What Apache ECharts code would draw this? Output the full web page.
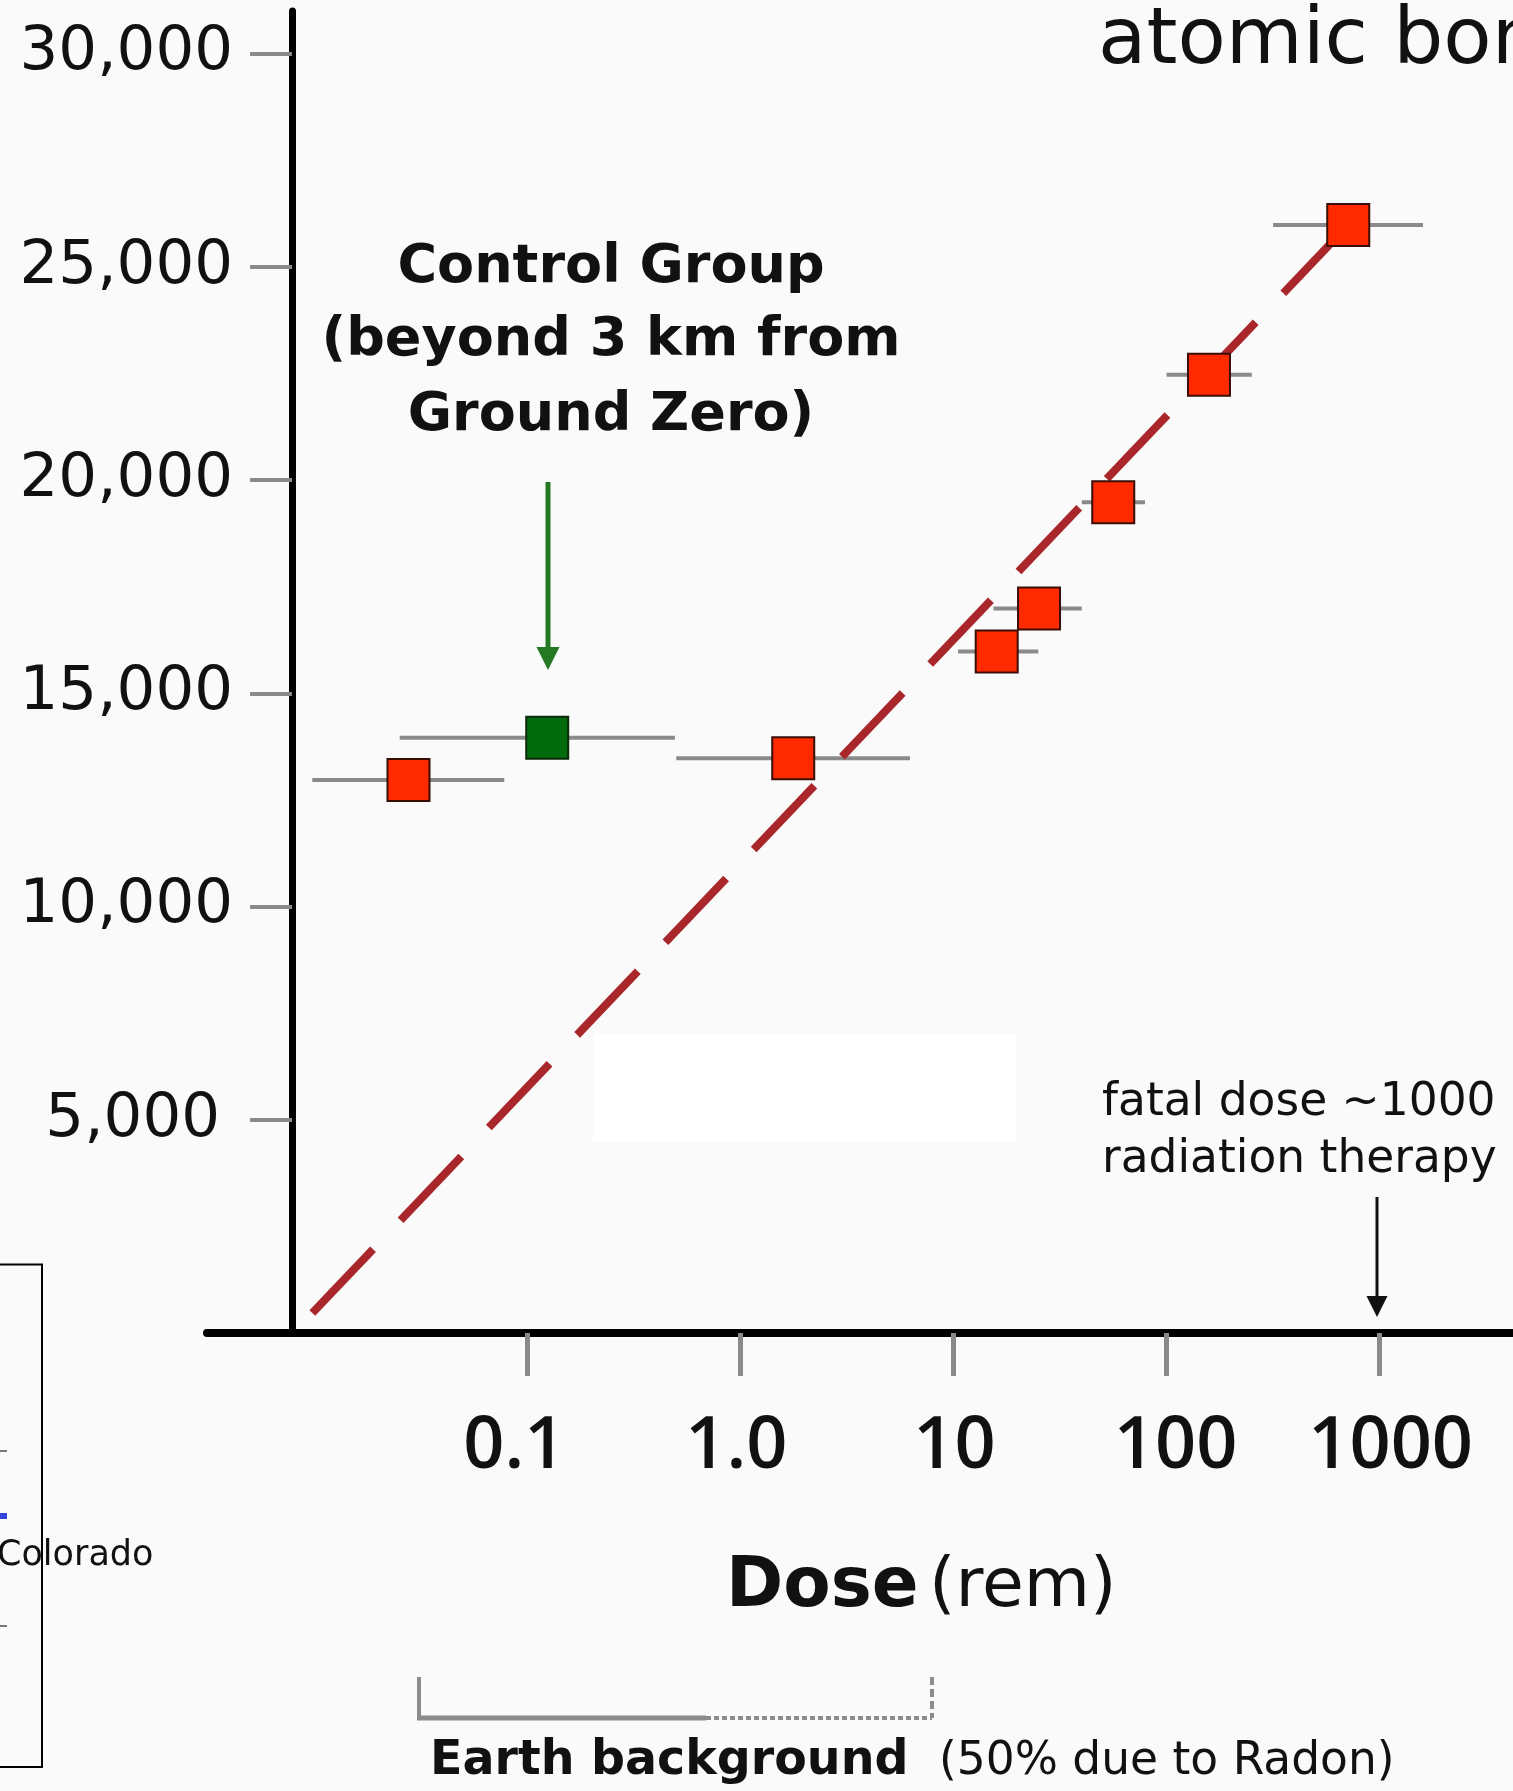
<!DOCTYPE html>
<html>
<head>
<meta charset="utf-8">
<script src="https://cdn.jsdelivr.net/npm/echarts@6/dist/echarts.min.js"></script>
<style>
html,body{margin:0;padding:0;background:#fafafa;}
#chart{width:1513px;height:1791px;}
</style>
</head>
<body>
<div id="chart"></div>
<script>
// ---- data ----
const exposedDose      = [0.0277, 1.77, 15.95, 25.2, 56.2, 158.1, 712];
const exposedValue     = [12970, 13480, 15980, 16990, 19480, 22470, 25980];
const exposedDoseLow   = [0.0098, 0.50, 10.5, 15.4, 40.0, 100, 316];
const exposedDoseHigh  = [0.078, 6.25, 25.0, 40.0, 79.2, 251, 1597];

const controlDose      = [0.124];
const controlValue     = [13960];
const controlDoseLow   = [0.0252];
const controlDoseHigh  = [0.493];

const trendDose        = [0.0098, 712];
const trendValue       = [470, 25980];

const xTickValues = [0.1, 1, 10, 100, 1000];
const xTickLabels = ['0.1', '1.0', '10', '100', '1000'];
const xLabelShift = [-13, -4, 1, 9, 11];

const yTickValues = [5000, 10000, 15000, 20000, 25000, 30000];
const yTickLabels = ['5,000', '10,000', '15,000', '20,000', '25,000', '30,000'];
const yLabelShift = [13, 0, 0, 0, 0, 0];

// ---- build options ----
const xRich = {};
xTickLabels.forEach((t, i) => {
  const s = xLabelShift[i];
  xRich['x' + i] = {
    fontFamily: '"Open Sans", "Noto Sans", sans-serif', fontWeight: 600, fontSize: 72, color: '#111',
    padding: s < 0 ? [0, -2 * s, 0, 0] : [0, 0, 0, 2 * s]
  };
});
const yRich = {};
yTickLabels.forEach((t, i) => {
  yRich['y' + i] = {
    fontFamily: '"DejaVu Sans", sans-serif', fontSize: 61, color: '#111',
    padding: [0, yLabelShift[i], 0, 0]
  };
});

function txt(x, y, text, size, weight, align, family, fill) {
  return {
    type: 'text', x: x, y: y, z: 10,
    style: {
      text: text, fontSize: size, fontWeight: weight || 'normal',
      fontFamily: family || '"DejaVu Sans", sans-serif',
      fill: fill || '#111',
      textAlign: align || 'left', align: align || 'left',
      textVerticalAlign: 'middle', verticalAlign: 'middle'
    }
  };
}
function seg(x1, y1, x2, y2, color, w, dash) {
  const st = { stroke: color, lineWidth: w };
  if (dash) st.lineDash = dash;
  return { type: 'line', z: 10, shape: { x1, y1, x2, y2 }, style: st };
}

const graphics = [
  { type: 'rect', z: 0, shape: { x: 593, y: 1033, width: 423, height: 109 }, style: { fill: '#ffffff' } },
  txt(1098, 42, 'atomic bomb', 79, 'normal', 'left'),
  txt(611, 267.5, 'Control Group', 54, 'bold', 'center'),
  txt(611, 341, '(beyond 3 km from', 54, 'bold', 'center'),
  txt(611, 416, 'Ground Zero)', 54, 'bold', 'center'),
  seg(548, 482, 548, 652, '#237a23', 5),
  { type: 'polygon', z: 10, shape: { points: [[536.5, 647], [559.5, 647], [548, 670]] }, style: { fill: '#237a23' } },
  txt(1102, 1103.6, 'fatal dose ~1000', 45.5, 'normal', 'left'),
  txt(1102, 1160.3, 'radiation therapy', 45.5, 'normal', 'left'),
  seg(1377, 1197, 1377, 1300, '#111', 3),
  { type: 'polygon', z: 10, shape: { points: [[1366.5, 1296], [1387.5, 1296], [1377, 1317]] }, style: { fill: '#111' } },
  txt(726, 1587.7, 'Dose', 69, 'bold', 'left'),
  txt(929, 1588, '(rem)', 68, 'normal', 'left'),
  seg(419, 1677, 419, 1718, '#8c8c8c', 4),
  seg(417, 1718, 706, 1718, '#8c8c8c', 5),
  seg(706, 1718, 932, 1718, '#8c8c8c', 4, [5, 3]),
  seg(932, 1677, 932, 1718, '#8c8c8c', 4, [8, 4]),
  txt(430, 1762, 'Earth background', 47.5, 'bold', 'left'),
  txt(939, 1762.5, '(50% due to Radon)', 45.5, 'normal', 'left'),
  { type: 'rect', z: 10, shape: { x: -10, y: 1264.5, width: 52, height: 502.5 }, style: { fill: null, stroke: '#000', lineWidth: 2 } },
  txt(-3, 1556, 'Colorado', 35, 'normal', 'left'),
  seg(0, 1451, 7, 1451, '#777', 2),
  { type: 'rect', z: 10, shape: { x: 0, y: 1513, width: 7, height: 6 }, style: { fill: '#3344dd' } },
  seg(0, 1626, 7, 1626, '#777', 2)
];

const option = {
  animation: false,
  backgroundColor: '#fafafa',
  grid: { left: 207, right: 0, top: 11, bottom: 458, containLabel: false, outerBoundsMode: 'none' },
  xAxis: {
    type: 'log', logBase: 10, min: 0.00314, max: 4223,
    axisLine: { show: true, onZero: false, lineStyle: { color: '#000', width: 8 } },
    axisTick: { show: true, customValues: xTickValues, length: 43, lineStyle: { color: '#8a8a8a', width: 5 } },
    axisLabel: {
      show: true, customValues: xTickValues, margin: 78, verticalAlign: 'top',
      fontFamily: '"Open Sans", "Noto Sans", sans-serif', fontWeight: 600, fontSize: 72, color: '#111',
      formatter: function (v) {
        const i = xTickValues.findIndex(t => Math.abs(Math.log10(t) - Math.log10(v)) < 1e-6);
        return i < 0 ? '' : '{x' + i + '|' + xTickLabels[i] + '}';
      },
      rich: xRich
    },
    splitLine: { show: false },
    minorTick: { show: false }, minorSplitLine: { show: false }
  },
  yAxis: {
    type: 'value', min: 0, max: 31000, interval: 5000,
    position: 'left', offset: -85,
    axisLine: { show: true, onZero: false, lineStyle: { color: '#000', width: 7 } },
    axisTick: { show: true, customValues: yTickValues, length: 42, lineStyle: { color: '#8a8a8a', width: 4 } },
    axisLabel: {
      show: true, customValues: yTickValues, margin: 59,
      fontFamily: '"DejaVu Sans", sans-serif', fontSize: 61, color: '#111',
      formatter: function (v) {
        const i = yTickValues.indexOf(v);
        return i < 0 ? '' : '{y' + i + '|' + yTickLabels[i] + '}';
      },
      rich: yRich
    },
    splitLine: { show: false }
  },
  graphic: { elements: graphics },
  series: [
    {
      type: 'custom', name: 'dose range', z: 2, silent: true,
      encode: { x: [0, 1], y: 2 },
      data: exposedDoseLow.map((lo, i) => [lo, exposedDoseHigh[i], exposedValue[i]])
        .concat(controlDoseLow.map((lo, i) => [lo, controlDoseHigh[i], controlValue[i]])),
      renderItem: function (params, api) {
        const y = api.value(2);
        const p1 = api.coord([api.value(0), y]);
        const p2 = api.coord([api.value(1), y]);
        return { type: 'line', shape: { x1: p1[0], y1: p1[1], x2: p2[0], y2: p2[1] },
                 style: { stroke: '#8a8a8a', lineWidth: 4 } };
      }
    },
    {
      type: 'line', name: 'trend', z: 3, silent: true,
      data: trendDose.map((d, i) => [d, trendValue[i]]),
      symbol: 'none',
      lineStyle: { color: '#a9262b', width: 8, type: [88, 40], cap: 'butt' }
    },
    {
      type: 'scatter', name: 'exposed', z: 4,
      data: exposedDose.map((d, i) => [d, exposedValue[i]]),
      symbol: 'rect', symbolSize: 42,
      itemStyle: { color: '#ff2a00', borderColor: '#3a0d05', borderWidth: 2, opacity: 1 }
    },
    {
      type: 'scatter', name: 'control', z: 4,
      data: controlDose.map((d, i) => [d, controlValue[i]]),
      symbol: 'rect', symbolSize: 42,
      itemStyle: { color: '#006a0c', borderColor: '#0d2a0d', borderWidth: 2, opacity: 1 }
    }
  ]
};

const chart = echarts.init(document.getElementById('chart'), null, { renderer: 'canvas', width: 1513, height: 1791 });
chart.setOption(option);
</script>
</body>
</html>
